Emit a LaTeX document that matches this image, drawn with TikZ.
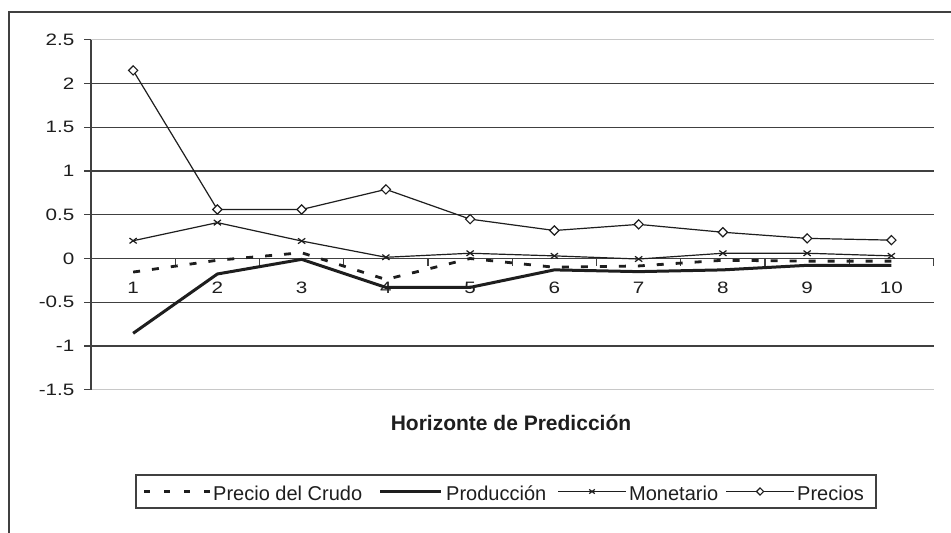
\documentclass[tikz,border=0pt]{standalone}
\usepackage{fontspec}
\setmainfont{Liberation Sans}
\newfontfamily\axisfont{Liberation Sans}[FakeStretch=1.25]
\usetikzlibrary{plotmarks}
\pgfdeclareplotmark{rhomb}{%
  \pgfpathmoveto{\pgfqpoint{0pt}{\pgfplotmarksize}}%
  \pgfpathlineto{\pgfqpoint{\pgfplotmarksize}{0pt}}%
  \pgfpathlineto{\pgfqpoint{0pt}{-\pgfplotmarksize}}%
  \pgfpathlineto{\pgfqpoint{-\pgfplotmarksize}{0pt}}%
  \pgfpathclose\pgfusepathqfillstroke}
\pgfdeclareplotmark{xcross}{%
  \pgfpathmoveto{\pgfqpoint{-\pgfplotmarksize}{-.75\pgfplotmarksize}}%
  \pgfpathlineto{\pgfqpoint{\pgfplotmarksize}{.75\pgfplotmarksize}}%
  \pgfpathmoveto{\pgfqpoint{-\pgfplotmarksize}{.75\pgfplotmarksize}}%
  \pgfpathlineto{\pgfqpoint{\pgfplotmarksize}{-.75\pgfplotmarksize}}%
  \pgfusepathqstroke}
\definecolor{ink}{HTML}{1E1E1E}
\definecolor{gridc}{HTML}{404040}
\definecolor{lightgrid}{HTML}{C8C8C8}
\tikzset{
  frameline/.style={draw=gridc, line width=1.3pt},
  gridline/.style={draw=gridc, line width=1.2pt},
  edgegrid/.style={draw=lightgrid, line width=1.2pt},
  axisline/.style={draw=gridc, line width=1.3pt},
  axlab/.style={inner sep=0pt, text=ink, font=\axisfont\fontsize{16.5}{19}\selectfont},
  legtext/.style={inner sep=0pt, anchor=base west, text=ink, font=\fontsize{20}{23}\selectfont},
  crudo/.style={draw=ink, line width=2.8pt, dash pattern=on 7pt off 12pt},
  produccion/.style={draw=ink, line width=3pt, line join=round},
  monetario/.style={draw=ink, line width=1.2pt, mark=xcross, mark size=3.6pt, mark options={solid, line width=1.2pt}},
  precios/.style={draw=ink, line width=1.2pt, mark=rhomb, mark size=4.6pt, mark options={solid, fill=white, line width=1.2pt}},
}
\begin{document}
\begin{tikzpicture}[x=1pt,y=-1pt]
\useasboundingbox (0,0) rectangle (951,533);
\fill[white] (0,0) rectangle (951,533);
% outer chart frame (cropped)
\draw[frameline] (951,12) -- (9,12) -- (9,533);
\begin{scope}[shift={(91,258.5)}, x=84.25pt, y=87.5pt]
  % grid
  \foreach \v in {-1,-0.5,0.5,1,1.5,2} \draw[gridline] (0,\v) -- (10,\v);
  \draw[edgegrid] (0,2.5) -- (10,2.5);
  \draw[edgegrid] (0,-1.5) -- (10,-1.5);
  % axes
  \draw[axisline] (0,-1.5) -- (0,2.5);
  \draw[axisline] (0,0) -- (10,0);
  \foreach \v [count=\k] in {-1.5,-1,-0.5,0,0.5,1,1.5,2,2.5} {
    \draw[axisline] (0,\v) -- ++(-7pt,0pt);
    \node[axlab, anchor=east] (yl\k) at ([xshift=-16.5pt]0,\v) {\v};
  }
  \foreach \i in {1,...,10} {
    \draw[axisline] (\i,0) -- ++(0pt,-7pt);
    \node[axlab, anchor=base] (xl\i) at ([yshift=-34.8pt]\i-0.5,0) {\i};
  }
  % series
  \draw[crudo] plot coordinates {(0.5,-0.155) (1.5,-0.02) (2.5,0.066) (3.5,-0.24) (4.5,0.0) (5.5,-0.10) (6.5,-0.085) (7.5,-0.02) (8.5,-0.03) (9.5,-0.03)};
  \draw[produccion] plot coordinates {(0.5,-0.855) (1.5,-0.177) (2.5,-0.01) (3.5,-0.33) (4.5,-0.33) (5.5,-0.13) (6.5,-0.15) (7.5,-0.13) (8.5,-0.078) (9.5,-0.078)};
  \draw[monetario] plot coordinates {(0.5,0.203) (1.5,0.41) (2.5,0.2) (3.5,0.014) (4.5,0.06) (5.5,0.03) (6.5,-0.006) (7.5,0.06) (8.5,0.06) (9.5,0.03)};
  \draw[precios] plot coordinates {(0.5,2.15) (1.5,0.56) (2.5,0.56) (3.5,0.79) (4.5,0.45) (5.5,0.32) (6.5,0.39) (7.5,0.30) (8.5,0.23) (9.5,0.21)};
\end{scope}
% axis title
\node[inner sep=0pt, anchor=base, text=ink, font=\bfseries\fontsize{21}{24}\selectfont] (title) at (511,430) {Horizonte de Predicción};
% legend
\draw[frameline] (136,475) rectangle (876,508);
\draw[draw=ink, line width=3pt, dash pattern=on 6pt off 14pt] (144,491.5) -- (210,491.5);
\node[legtext] (l1) at (213,500) {Precio del Crudo};
\draw[produccion] (380,491.5) -- (441,491.5);
\node[legtext] (l2) at (446,500) {Producción};
\draw[draw=ink, line width=1.2pt] (558,491.5) -- (626,491.5);
\draw[monetario, mark size=2.8pt] plot coordinates {(592,491.5)};
\node[legtext] (l3) at (629,500) {Monetario};
\draw[draw=ink, line width=1.2pt] (726,491.5) -- (794,491.5);
\draw[precios, mark size=3.6pt] plot coordinates {(760,491.5)};
\node[legtext] (l4) at (797,500) {Precios};
\end{tikzpicture}
\end{document}
